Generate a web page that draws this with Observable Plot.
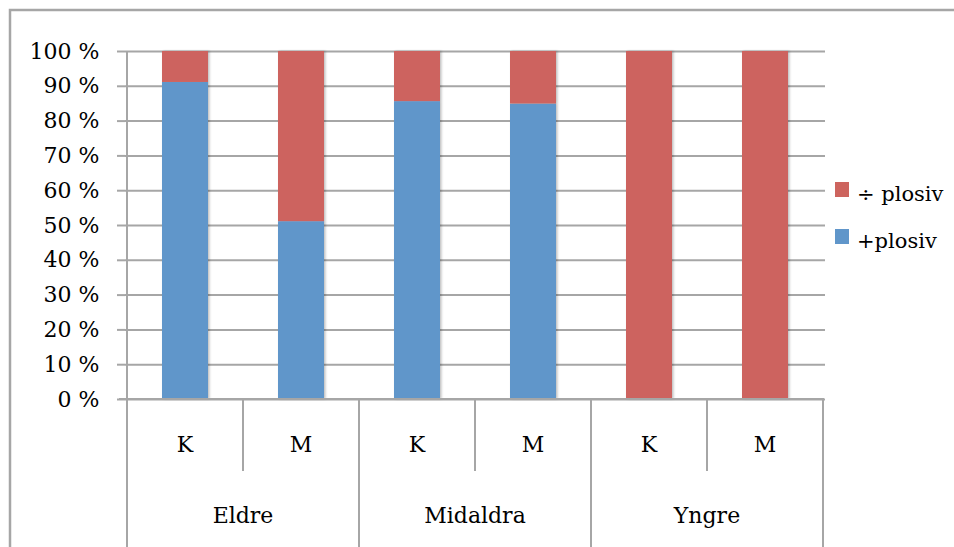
<!DOCTYPE html>
<html>
<head>
<meta charset="utf-8">
<script src="https://cdn.jsdelivr.net/npm/d3@7"></script>
<script src="https://cdn.jsdelivr.net/npm/@observablehq/plot@0.6"></script>
<style>
  body { margin: 0; background: #fff; }
  #chart { position: relative; width: 954px; height: 547px; overflow: hidden; }
</style>
</head>
<body>
<div id="chart"></div>
<script>
// Share of +plosiv / ÷ plosiv by age group and gender (percent)
const ageGroups = ["Eldre", "Midaldra", "Yngre"];
const genders = ["K", "M"];
const plusPlosiv = [91.1, 51.1, 85.6, 84.9, 0, 0];
const minusPlosiv = [8.9, 48.9, 14.4, 15.1, 100, 100];
const seriesNames = ["+plosiv", "÷ plosiv"];
const seriesColors = ["#6096ca", "#cd645e"];
const yTicks = [0, 10, 20, 30, 40, 50, 60, 70, 80, 90, 100];

const FONT = "DejaVu Serif, serif";
const GRID = "#a6a6a6";

// One row per bar segment; key = age + gender
const keys = [];
const rows = [];
ageGroups.forEach((age, a) => {
  genders.forEach((g, s) => {
    const i = a * genders.length + s;
    const key = `${age} ${g}`;
    keys.push(key);
    rows.push({key, age, gender: g, series: seriesNames[0], value: plusPlosiv[i]});
    rows.push({key, age, gender: g, series: seriesNames[1], value: minusPlosiv[i]});
  });
});

const plot = Plot.plot({
  width: 954,
  height: 547,
  marginLeft: 125,
  marginRight: 129,
  marginTop: 51,
  marginBottom: 148,
  style: {fontFamily: FONT, fontSize: "21px", color: "#000", background: "#fff"},
  x: {domain: keys, paddingInner: 0.6, paddingOuter: 0.3, axis: null},
  y: {domain: [0, 100], axis: null},
  color: {domain: seriesNames, range: seriesColors},
  marks: [
    Plot.gridY(yTicks, {stroke: GRID, strokeOpacity: 1, strokeWidth: 2}),
    Plot.axisY({
      ticks: yTicks,
      tickSize: 8,
      tickPadding: 18,
      tickFormat: d => `${d} %`,
      label: null,
      stroke: GRID,
      strokeWidth: 2,
      fontSize: 22,
      fill: "#000"
    }),
    Plot.barY(rows, {x: "key", y: "value", fill: "series", order: seriesNames})
  ]
});

document.getElementById("chart").appendChild(plot);

// Hierarchical category axis, outer frame and legend
const svg = d3.select(plot);
const x = plot.scale("x");
const step = x.step;
const pad = (step - x.bandwidth) / 2;
const y0 = 547 - 148;          // baseline of the value axis
const left = x.apply(keys[0]) - pad;
const right = x.apply(keys[keys.length - 1]) + x.bandwidth + pad;

const defs = svg.append("defs");
defs.append("filter").attr("id", "barShadow")
  .attr("x", "-20%").attr("y", "-5%").attr("width", "140%").attr("height", "110%")
  .append("feDropShadow")
  .attr("dx", 1.5).attr("dy", 0).attr("stdDeviation", 1.2)
  .attr("flood-color", "#000").attr("flood-opacity", 0.25);
svg.select('g[aria-label="bar"]').attr("filter", "url(#barShadow)");

const axis = svg.append("g").attr("stroke", GRID).attr("stroke-width", 2).attr("fill", "none");
// category baseline, extended left like the ticks
axis.append("line").attr("x1", left - 8).attr("x2", right + 1).attr("y1", y0).attr("y2", y0);
// value axis line running down through the category rows
axis.append("line").attr("x1", left).attr("x2", left).attr("y1", 51).attr("y2", 547);

keys.forEach((k, i) => {
  const xr = x.apply(k) + x.bandwidth + pad;
  const outer = (i + 1) % genders.length === 0;
  axis.append("line").attr("x1", xr).attr("x2", xr)
    .attr("y1", y0).attr("y2", outer ? 547 : 471);
});

const labels = svg.append("g").attr("font-family", FONT).attr("font-size", 22)
  .attr("fill", "#000").attr("text-anchor", "middle");
rows.filter(r => r.series === seriesNames[0]).forEach(r => {
  labels.append("text").attr("x", x.apply(r.key) + x.bandwidth / 2).attr("y", 452).text(r.gender);
});
ageGroups.forEach(age => {
  const first = keys.find(k => k.startsWith(age + " "));
  const cx = x.apply(first) - pad + step * genders.length / 2;
  labels.append("text").attr("x", cx).attr("y", 523).text(age);
});

// outer chart border (left and top edges)
svg.append("path").attr("d", "M10,548V10H955")
  .attr("fill", "none").attr("stroke", GRID).attr("stroke-width", 2.5);

// legend: ÷ plosiv above +plosiv
const color = plot.scale("color");
const legend = svg.append("g").attr("font-family", FONT).attr("font-size", 21)
  .attr("fill", "#000").attr("text-anchor", "start");
[seriesNames[1], seriesNames[0]].forEach((name, j) => {
  const top = 182 + j * 47;
  legend.append("rect").attr("x", 835).attr("y", top).attr("width", 14).attr("height", 15)
    .attr("fill", color.apply(name));
  legend.append("text").attr("x", 857).attr("y", top + 19).text(name);
});
</script>
</body>
</html>
